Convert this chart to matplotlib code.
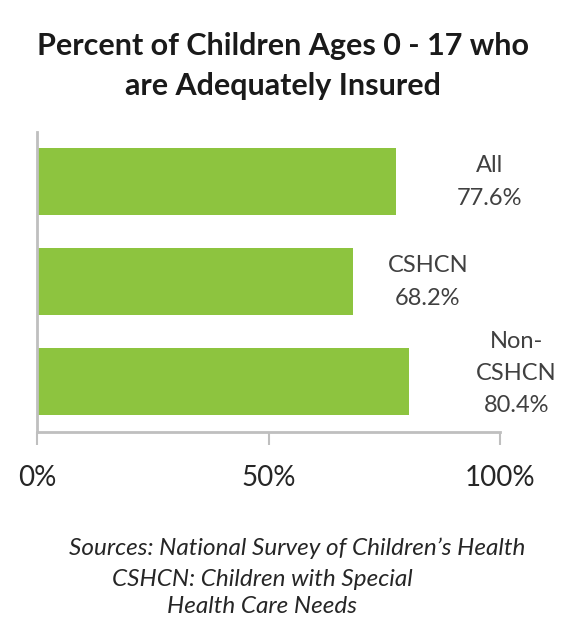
import matplotlib
matplotlib.use("Agg")
import matplotlib.pyplot as plt

plt.rcParams['font.family'] = ['Lato', 'DejaVu Sans']

# data
groups = ["All", "CSHCN", "Non-\nCSHCN"]
values = [77.6, 68.2, 80.4]
ticks = [0, 50, 100]
tick_labels = ["0%", "50%", "100%"]

bar_color = "#8DC43F"
axis_color = "#BFBFBF"
text_color = "#404040"

fig = plt.figure(figsize=(5.72, 6.24), dpi=100)
ax = fig.add_axes([0.0647, 0.3077, 0.8095, 0.4808])

ypos = list(range(len(groups)))
ax.barh(ypos, values, height=0.67, color=bar_color)

# label offsets (points) to the right of each bar end
offsets = [(67, 0), (54, 0), (77, 6)]
for y, v, g, off in zip(ypos, values, groups, offsets):
    ax.annotate(f"{g}\n{v:.1f}%", xy=(v, y), xytext=off,
                textcoords="offset points", ha="center", va="center",
                fontsize=17, color=text_color, linespacing=1.65)

ax.set_xlim(0, 100)
ax.set_ylim(len(groups) - 0.5, -0.5)
ax.set_xticks(ticks)
ax.set_xticklabels(tick_labels, fontsize=20, color="#262626")
ax.set_yticks([])
ax.tick_params(axis="x", direction="out", length=9, width=1.5,
               color=axis_color, pad=15)
for side in ["top", "right"]:
    ax.spines[side].set_visible(False)
for side in ["left", "bottom"]:
    ax.spines[side].set_color(axis_color)
    ax.spines[side].set_linewidth(2)

fig.text(0.495, 0.894, "Percent of Children Ages 0 - 17 who\nare Adequately Insured",
         ha="center", va="center", fontsize=22, fontweight="bold",
         color="#1a1a1a", linespacing=1.5)

fig.text(0.519, 0.122, "Sources: National Survey of Children\u2019s Health",
         ha="center", va="center", fontsize=17.5, style="italic", color="#262626")
fig.text(0.458, 0.0495, "CSHCN: Children with Special\nHealth Care Needs",
         ha="center", va="center", fontsize=17.5, style="italic",
         color="#262626", linespacing=1.38)

fig.savefig("out.png", dpi=100)
